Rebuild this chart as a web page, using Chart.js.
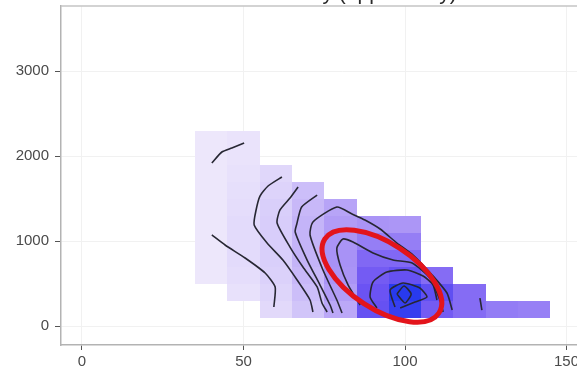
<!DOCTYPE html>
<html lang="en">
<head>
    <meta charset="UTF-8">
    <title>Density</title>
    <script src="https://cdn.jsdelivr.net/npm/chart.js@4.4.1/dist/chart.umd.min.js"></script>
    <style>
        html, body { margin: 0; padding: 0; background: #fff; overflow: hidden; width: 577px; height: 373px; }
        #wrap { position: absolute; left: 0; top: -22px; }
    </style>
</head>
<body>
    <div id="wrap"><canvas id="grafica" width="624" height="395"></canvas></div>

    <script>
        // 2d bins: edges along x and y
        const xEdges = [35, 45, 55, 65, 75, 85, 95, 105, 115, 125, 135, 145];
        const yEdges = [100, 300, 500, 700, 900, 1100, 1300, 1500, 1700, 1900, 2100, 2300];

        // relative density per x bin, bottom row first (null = no data)
        const density = [
            [null, null, 0.05, 0.05, 0.05, 0.05, 0.05, 0.05, 0.05, 0.05, 0.05],
            [null, 0.08, 0.10, 0.11, 0.11, 0.11, 0.10, 0.09, 0.08, 0.07, 0.07],
            [0.12, 0.14, 0.16, 0.17, 0.18, 0.18, 0.17, 0.15, 0.13, null, null],
            [0.22, 0.25, 0.28, 0.30, 0.30, 0.30, 0.28, 0.25, null, null, null],
            [0.36, 0.42, 0.46, 0.47, 0.46, 0.42, 0.38, null, null, null, null],
            [0.78, 0.76, 0.72, 0.66, 0.56, 0.46, null, null, null, null, null],
            [0.95, 1.00, 0.78, 0.66, 0.56, 0.45, null, null, null, null, null],
            [0.72, 0.80, 0.64, null, null, null, null, null, null, null, null],
            [0.64, 0.64, null, null, null, null, null, null, null, null, null],
            [0.57, null, null, null, null, null, null, null, null, null, null],
            [0.55, null, null, null, null, null, null, null, null, null, null]
        ];

        const xTicks = [0, 50, 100, 150];
        const yTicks = [0, 1000, 2000, 3000];

        // contour lines, [x, y]
        const contourA = [[40.2, 1918], [43.3, 2047], [46.4, 2094], [50.2, 2153]];
        const contourB = [[40.2, 1071], [44.3, 953], [50.5, 800], [56.7, 624], [59.8, 459], [59.4, 224]];
        const contourC = [[61.9, 1753], [57.6, 1647], [55.1, 1529], [53.9, 1365], [53.3, 1188], [57.3, 976], [62.2, 776], [66.6, 541], [70.6, 306], [71.5, 165]];
        const contourD = [[66.9, 1635], [64.4, 1506], [61.3, 1365], [60.4, 1212], [64.4, 929], [68.4, 694], [72.8, 459], [74.3, 271], [75.9, 165]];
        const contourE = [[72.8, 1541], [68.0, 1400], [66.5, 1200], [66.0, 1106], [69.7, 776], [73.7, 482], [76.8, 247], [77.7, 153]];
        const contourF = [[80.5, 153], [78.9, 306], [74.6, 659], [70.6, 1071], [71.5, 1224], [78.9, 1400], [83.6, 1318], [87.6, 1247], [92.3, 1141], [97.5, 976], [102.5, 835], [108.4, 600], [113.0, 388], [114.6, 188]];
        const contourG = [[86.1, 247], [82.4, 482], [79.9, 718], [78.9, 918], [80.8, 1024], [83.9, 988], [90.1, 859], [96.3, 776], [102.2, 741], [107.7, 565], [110.8, 306], [111.8, 165]];
        const contourH = [[91.3, 212], [89.2, 341], [90.1, 518], [94.4, 635], [100.6, 659], [105.6, 588], [108.7, 482], [109.9, 306]];
        const contourI = [[96.9, 224], [95.4, 424], [99.4, 506], [104.6, 447], [106.8, 341], [103.1, 282], [98.5, 212]];
        const contourJ = [[97.5, 376], [99.7, 471], [101.9, 376], [100.0, 271], [97.5, 376]];
        const contourK = [[123.2, 329], [123.8, 188]];
        const contours = [contourA, contourB, contourC, contourD, contourE, contourF, contourG, contourH, contourI, contourJ, contourK];

        // highlight ring: ends of its long axis
        const ringEnds = [[75.2, 1024], [110.5, 153]];

        Chart.defaults.font.family = "'Liberation Sans', Arial, sans-serif";

        // lavender -> purple -> blue
        const colorStops = [
            [0, [245, 241, 252]],
            [0.45, [172, 150, 246]],
            [0.75, [110, 84, 243]],
            [1, [40, 58, 238]]
        ];
        function fillFor(v) {
            for (let i = 1; i < colorStops.length; i++) {
                const [t1, c1] = colorStops[i];
                const [t0, c0] = colorStops[i - 1];
                if (v <= t1) {
                    const k = (v - t0) / (t1 - t0);
                    const c = c0.map((a, j) => Math.round(a + (c1[j] - a) * k));
                    return `rgb(${c[0]},${c[1]},${c[2]})`;
                }
            }
            const c = colorStops[colorStops.length - 1][1];
            return `rgb(${c[0]},${c[1]},${c[2]})`;
        }

        const tilePlugin = {
            id: "tiles",
            beforeDatasetsDraw(chart) {
                const { ctx, scales: { x, y } } = chart;
                ctx.save();
                density.forEach((col, i) => {
                    const x0 = Math.round(x.getPixelForValue(xEdges[i]));
                    const x1 = Math.round(x.getPixelForValue(xEdges[i + 1]));
                    col.forEach((v, j) => {
                        if (v == null) return;
                        const y0 = Math.round(y.getPixelForValue(yEdges[j + 1]));
                        const y1 = Math.round(y.getPixelForValue(yEdges[j]));
                        ctx.fillStyle = fillFor(v);
                        ctx.fillRect(x0, y0, x1 - x0, y1 - y0);
                    });
                });
                ctx.restore();
            }
        };

        // panel frame on top (left / bottom come from the axes)
        const framePlugin = {
            id: "frame",
            afterDatasetsDraw(chart) {
                const { ctx, chartArea: a } = chart;
                ctx.save();
                ctx.strokeStyle = "#c4c4c4";
                ctx.lineWidth = 1.5;
                ctx.beginPath();
                ctx.moveTo(a.left, a.top);
                ctx.lineTo(a.right, a.top);
                ctx.stroke();
                ctx.restore();
            }
        };

        const ringPlugin = {
            id: "ring",
            afterDatasetsDraw(chart) {
                const { ctx, scales: { x, y } } = chart;
                const ax = x.getPixelForValue(ringEnds[0][0]), ay = y.getPixelForValue(ringEnds[0][1]);
                const bx = x.getPixelForValue(ringEnds[1][0]), by = y.getPixelForValue(ringEnds[1][1]);
                ctx.save();
                ctx.strokeStyle = "#e3141b";
                ctx.lineWidth = 5;
                ctx.beginPath();
                ctx.ellipse((ax + bx) / 2, (ay + by) / 2, Math.hypot(bx - ax, by - ay) / 2, 33, Math.atan2(by - ay, bx - ax), 0, Math.PI * 2);
                ctx.stroke();
                ctx.restore();
            }
        };

        const tickFont = { size: 15 };

        new Chart(document.querySelector("#grafica").getContext("2d"), {
            type: "scatter",
            data: {
                datasets: contours.map(pts => ({
                    data: pts.map(([x, y]) => ({ x, y })),
                    showLine: true,
                    borderColor: "#272733",
                    borderWidth: 1.6,
                    pointRadius: 0,
                    tension: 0.2,
                    fill: false
                }))
            },
            options: {
                responsive: false,
                animation: false,
                layout: { padding: 0 },
                plugins: {
                    legend: { display: false },
                    tooltip: { enabled: false },
                    title: {
                        display: true,
                        text: "Estimated density (opportunity)",
                        color: "#2a2a2a",
                        font: { size: 21, weight: "normal", lineHeight: 1.0 },
                        padding: { top: 5.5, bottom: 1.5 }
                    }
                },
                scales: {
                    x: {
                        type: "linear",
                        min: -6.5,
                        max: 167.8,
                        afterBuildTicks: s => { s.ticks = xTicks.map(v => ({ value: v })); },
                        afterFit: s => { s.height = 28; },
                        grid: { color: "#f1f1f1", tickLength: 5, tickColor: "#555" },
                        border: { color: "#b3b3b3", width: 1.5 },
                        ticks: { color: "#4a4a4a", font: tickFont, padding: 3, maxRotation: 0, callback: v => String(v) }
                    },
                    y: {
                        type: "linear",
                        min: -223.5,
                        max: 3764.7,
                        afterBuildTicks: s => { s.ticks = yTicks.map(v => ({ value: v })); },
                        afterFit: s => { s.width = 61; },
                        grid: { color: "#f1f1f1", tickLength: 6, tickColor: "#555" },
                        border: { color: "#b3b3b3", width: 1.5 },
                        ticks: { color: "#4a4a4a", font: tickFont, padding: 6, callback: v => String(v) }
                    }
                }
            },
            plugins: [tilePlugin, framePlugin, ringPlugin]
        });
    </script>
</body>
</html>
